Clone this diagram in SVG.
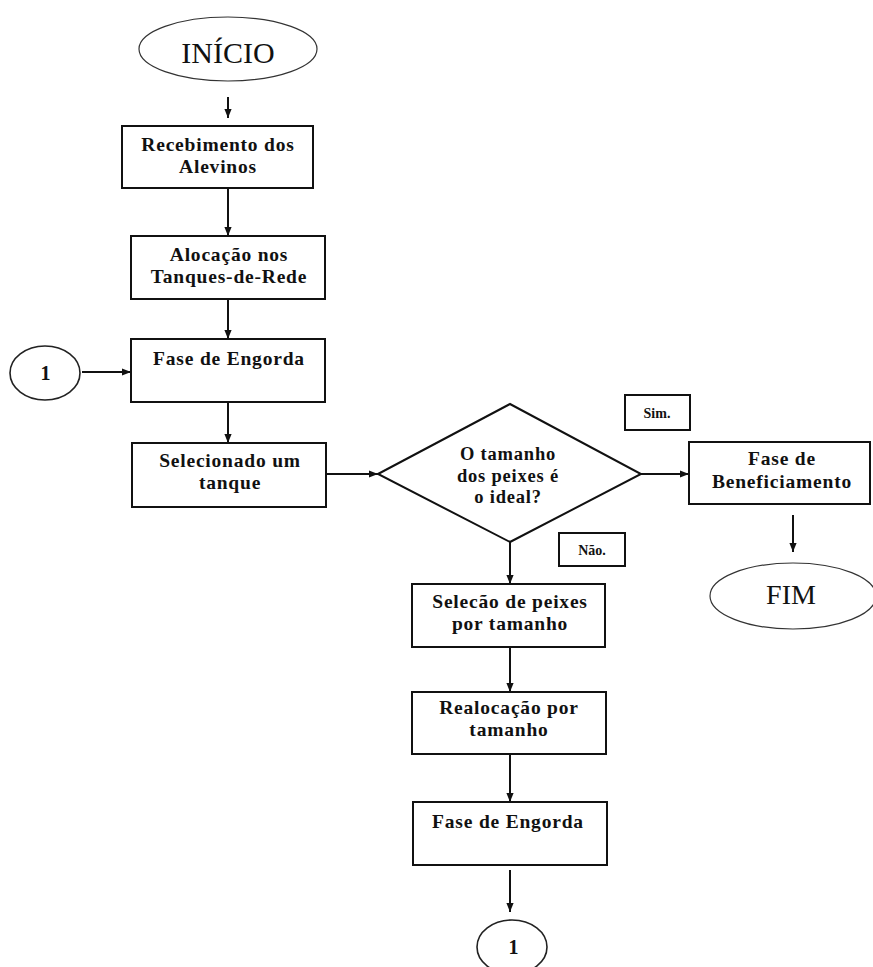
<svg xmlns="http://www.w3.org/2000/svg" width="873" height="967" viewBox="0 0 873 967">
  <style>
    .box { fill: #fff; stroke: #111; stroke-width: 2; }
    .term { fill: #fff; stroke: #333; stroke-width: 1.2; }
    .conn { fill: #fff; stroke: #222; stroke-width: 1.6; }
    .lbl { font-family: "Liberation Serif", "Times New Roman", serif; font-weight: bold; font-size: 19.5px; letter-spacing: 0.8px; fill: #111; text-anchor: middle; }
    .big { font-family: "Liberation Serif", "Times New Roman", serif; font-size: 30px; fill: #111; text-anchor: middle; }
    .tag { font-family: "Liberation Serif", "Times New Roman", serif; font-weight: bold; font-size: 14px; fill: #111; text-anchor: middle; }
    .edge { fill: none; stroke: #111; stroke-width: 2; marker-end: url(#arrow); }
  </style>
  <defs>
    <marker id="arrow" viewBox="0 0 10 10" refX="10" refY="5" markerWidth="9" markerHeight="9" markerUnits="userSpaceOnUse" orient="auto">
      <path d="M0,1 L10,5 L0,9 z" fill="#111"/>
    </marker>
  </defs>
  <rect width="873" height="967" fill="#fff"/>

  <!-- connectors -->
  <g id="connectors">
    <path class="edge" d="M228,97 V118"/>
    <path class="edge" d="M228,188 V236"/>
    <path class="edge" d="M228,299 V339"/>
    <path class="edge" d="M82,372 H131"/>
    <path class="edge" d="M228,402 V443"/>
    <path class="edge" d="M326,474 H378"/>
    <path class="edge" d="M641,474 H689"/>
    <path class="edge" d="M793,515 V552"/>
    <path class="edge" d="M510,542 V584"/>
    <path class="edge" d="M510,647 V692"/>
    <path class="edge" d="M510,754 V802"/>
    <path class="edge" d="M510,870 V912"/>
  </g>

  <!-- start terminal -->
  <g id="inicio">
    <ellipse class="term" cx="228" cy="49" rx="89" ry="32"/>
    <text class="big" x="228" y="63">INÍCIO</text>
  </g>

  <g id="recebimento">
    <rect class="box" x="122" y="126" width="191" height="62"/>
    <text class="lbl" x="218" y="151">Recebimento dos</text>
    <text class="lbl" x="218" y="173">Alevinos</text>
  </g>

  <g id="alocacao">
    <rect class="box" x="131" y="236" width="194" height="63"/>
    <text class="lbl" x="229" y="261">Alocação nos</text>
    <text class="lbl" x="229" y="283">Tanques-de-Rede</text>
  </g>

  <!-- off-page connector feeding the fattening phase -->
  <g id="conector-1-entrada">
    <ellipse class="conn" cx="45" cy="373" rx="35" ry="27"/>
    <text class="lbl" x="46" y="380" style="font-size:20px">1</text>
  </g>

  <g id="engorda-1">
    <rect class="box" x="131" y="339" width="194" height="63"/>
    <text class="lbl" x="229" y="365">Fase de Engorda</text>
  </g>

  <g id="selecionado">
    <rect class="box" x="132" y="443" width="194" height="64"/>
    <text class="lbl" x="230" y="467">Selecionado um</text>
    <text class="lbl" x="230" y="489">tanque</text>
  </g>

  <!-- decision -->
  <g id="decisao">
    <polygon class="box" points="378,474 510,404 641,474 510,542"/>
    <text class="lbl" x="508" y="460" style="font-size:18.5px">O tamanho</text>
    <text class="lbl" x="508" y="481.5" style="font-size:18.5px">dos peixes é</text>
    <text class="lbl" x="508" y="503" style="font-size:18.5px">o ideal?</text>
  </g>

  <g id="sim">
    <rect class="box" x="625" y="395" width="65" height="35"/>
    <text class="tag" x="657" y="418">Sim.</text>
  </g>

  <g id="nao">
    <rect class="box" x="559" y="533" width="66" height="33"/>
    <text class="tag" x="592" y="555">Não.</text>
  </g>

  <g id="beneficiamento">
    <rect class="box" x="689" y="442" width="181" height="62"/>
    <text class="lbl" x="782" y="465">Fase de</text>
    <text class="lbl" x="782" y="488">Beneficiamento</text>
  </g>

  <!-- end terminal -->
  <g id="fim">
    <ellipse class="term" cx="793" cy="596" rx="83" ry="33"/>
    <text class="big" x="791" y="604" style="font-size:28px">FIM</text>
  </g>

  <g id="selecao">
    <rect class="box" x="412" y="584" width="193" height="63"/>
    <text class="lbl" x="510" y="608">Selecão de peixes</text>
    <text class="lbl" x="510" y="630">por tamanho</text>
  </g>

  <g id="realocacao">
    <rect class="box" x="412" y="692" width="194" height="62"/>
    <text class="lbl" x="509" y="714">Realocação por</text>
    <text class="lbl" x="509" y="736">tamanho</text>
  </g>

  <g id="engorda-2">
    <rect class="box" x="413" y="802" width="194" height="63"/>
    <text class="lbl" x="508" y="828">Fase de Engorda</text>
  </g>

  <!-- off-page connector returning to the fattening phase -->
  <g id="conector-1-saida">
    <ellipse class="conn" cx="512" cy="947" rx="35" ry="27"/>
    <text class="lbl" x="514" y="954" style="font-size:20px">1</text>
  </g>
</svg>
